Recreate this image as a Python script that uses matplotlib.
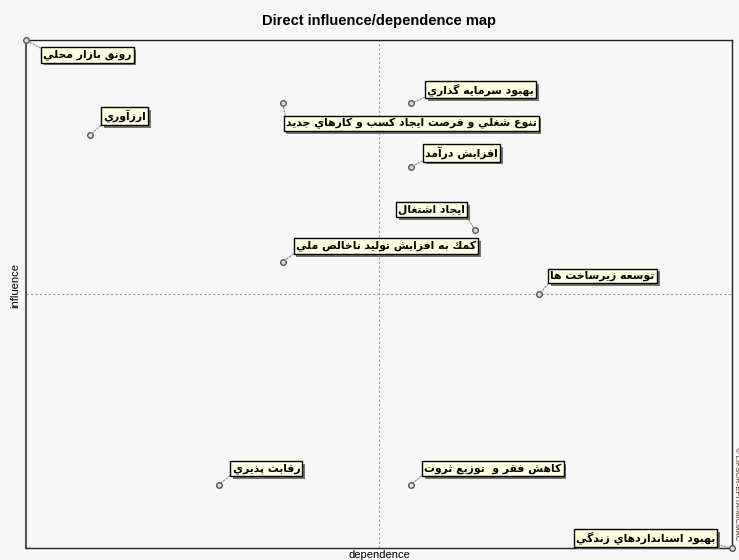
import matplotlib
matplotlib.use("Agg")
import matplotlib.pyplot as plt
import matplotlib.patheffects as pe

# Direct influence / dependence values
labels = [
    "رونق بازار محلي",
    "ارزآوري",
    "تنوع شغلي و فرصت ايجاد كسب و كارهاي جديد",
    "بهبود سرمايه گذاري",
    "افزايش درآمد",
    "ايجاد اشتغال",
    "كمك به افزايش توليد ناخالص ملي",
    "توسعه زيرساخت ها",
    "رقابت پذيري",
    "كاهش فقر و  توزيع ثروت",
    "بهبود استانداردهاي زندگي",
]
dependence = [6, 7, 10, 12, 12, 13, 10, 14, 9, 12, 17]
influence = [18, 15, 16, 16, 14, 12, 11, 10, 4, 4, 2]
# label offsets (pixels) and anchor side
offsets = [(17, -15), (13, 19), (3, -20), (16, 14), (14, 14), (-10, 21),
           (13, 16), (11, 18), (14, 16), (13, 16), (-17, 10)]
anchors = ["left", "left", "left", "left", "left", "right",
           "left", "left", "left", "left", "right"]

BG = "#f7f7f7"
BOX = "#ffffe1"

# --- minimal Arabic/Persian shaping (matplotlib has no complex text layout) ---
FORMS = {
    "ا": ("\uFE8D", "\uFE8E"), "آ": ("\uFE81", "\uFE82"),
    "د": ("\uFEA9", "\uFEAA"), "ذ": ("\uFEAB", "\uFEAC"),
    "ر": ("\uFEAD", "\uFEAE"), "ز": ("\uFEAF", "\uFEB0"),
    "ژ": ("\uFB8A", "\uFB8B"), "و": ("\uFEED", "\uFEEE"),
    "ب": ("\uFE8F", "\uFE90", "\uFE91", "\uFE92"),
    "ت": ("\uFE95", "\uFE96", "\uFE97", "\uFE98"),
    "ث": ("\uFE99", "\uFE9A", "\uFE9B", "\uFE9C"),
    "ج": ("\uFE9D", "\uFE9E", "\uFE9F", "\uFEA0"),
    "ح": ("\uFEA1", "\uFEA2", "\uFEA3", "\uFEA4"),
    "خ": ("\uFEA5", "\uFEA6", "\uFEA7", "\uFEA8"),
    "س": ("\uFEB1", "\uFEB2", "\uFEB3", "\uFEB4"),
    "ش": ("\uFEB5", "\uFEB6", "\uFEB7", "\uFEB8"),
    "ص": ("\uFEB9", "\uFEBA", "\uFEBB", "\uFEBC"),
    "ع": ("\uFEC9", "\uFECA", "\uFECB", "\uFECC"),
    "غ": ("\uFECD", "\uFECE", "\uFECF", "\uFED0"),
    "ف": ("\uFED1", "\uFED2", "\uFED3", "\uFED4"),
    "ق": ("\uFED5", "\uFED6", "\uFED7", "\uFED8"),
    "ك": ("\uFED9", "\uFEDA", "\uFEDB", "\uFEDC"),
    "ل": ("\uFEDD", "\uFEDE", "\uFEDF", "\uFEE0"),
    "م": ("\uFEE1", "\uFEE2", "\uFEE3", "\uFEE4"),
    "ن": ("\uFEE5", "\uFEE6", "\uFEE7", "\uFEE8"),
    "ه": ("\uFEE9", "\uFEEA", "\uFEEB", "\uFEEC"),
    "ي": ("\uFEF1", "\uFEF2", "\uFEF3", "\uFEF4"),
    "پ": ("\uFB56", "\uFB57", "\uFB58", "\uFB59"),
    "گ": ("\uFB92", "\uFB93", "\uFB94", "\uFB95"),
}


def shape(s):
    out = []
    for i, c in enumerate(s):
        if c not in FORMS:
            out.append(c)
            continue
        f = FORMS[c]
        prev = s[i - 1] if i > 0 else " "
        nxt = s[i + 1] if i + 1 < len(s) else " "
        join_prev = prev in FORMS and len(FORMS[prev]) == 4
        join_next = len(f) == 4 and nxt in FORMS
        if join_prev and join_next:
            out.append(f[3])
        elif join_prev:
            out.append(f[1])
        elif join_next:
            out.append(f[2])
        else:
            out.append(f[0])
    return "".join(out)[::-1]


fig = plt.figure(figsize=(7.39, 5.60), dpi=100, facecolor=BG)
ax = fig.add_axes([0.0352, 0.0214, 0.9553, 0.9072])
ax.set_facecolor(BG)

xmin, xmax = min(dependence), max(dependence)
ymin, ymax = min(influence), max(influence)
ax.set_xlim(xmin, xmax)
ax.set_ylim(ymin, ymax)
ax.axvline((xmin + xmax) / 2, color="#999999", ls=(0, (2, 2)), lw=0.8)
ax.axhline((ymin + ymax) / 2, color="#999999", ls=(0, (2, 2)), lw=0.8)

ax.plot(dependence, influence, ls="none", marker="o", markersize=4,
        mfc="#dcdccc", mec="#555555", mew=1.0, clip_on=False, zorder=5)

for lab, x, y, (dx, dy), ha in zip(labels, dependence, influence, offsets, anchors):
    rx = 0.0 if ha == "left" else 1.0
    ry = 0.0 if dy > 0 else 1.0
    t = ax.annotate(
        shape(lab), (x, y), xytext=(dx, dy), textcoords="offset pixels",
        ha=ha, va="center", fontsize=7.8, fontweight="bold",
        family="DejaVu Sans", color="black", annotation_clip=False,
        bbox=dict(boxstyle="square,pad=0.2", fc=BOX, ec="black", lw=1.0),
        arrowprops=dict(arrowstyle="-", color="#888888", lw=0.8,
                        ls=(0, (1.5, 1.5)), shrinkA=0, shrinkB=2,
                        relpos=(rx, ry)),
        zorder=6,
    )
    t.get_bbox_patch().set_path_effects(
        [pe.SimplePatchShadow(offset=(2, -2), shadow_rgbFace="#666666", alpha=0.9),
         pe.Normal()])

for s in ax.spines.values():
    s.set_color("#222222")
    s.set_linewidth(1.0)
ax.spines["left"].set_color("#555555")
ax.spines["left"].set_linewidth(1.5)
ax.set_xticks([])
ax.set_yticks([])

fig.text(0.513, 0.962, "Direct influence/dependence map", ha="center",
         va="center", fontsize=10.5, fontweight="bold", family="Liberation Sans")
fig.text(0.513, 0.009, "dependence", ha="center", va="center",
         fontsize=8, family="Liberation Sans")
fig.text(0.021, 0.49, "influence", ha="center", va="center", rotation=90,
         fontsize=8, family="Liberation Sans")
fig.text(0.996, 0.118, "© LIPSOR-EPITA-MICMAC", ha="center", va="center",
         rotation=270, fontsize=5.5, color="#553322", family="Liberation Sans")

fig.savefig("out.png", dpi=100, facecolor=BG)
